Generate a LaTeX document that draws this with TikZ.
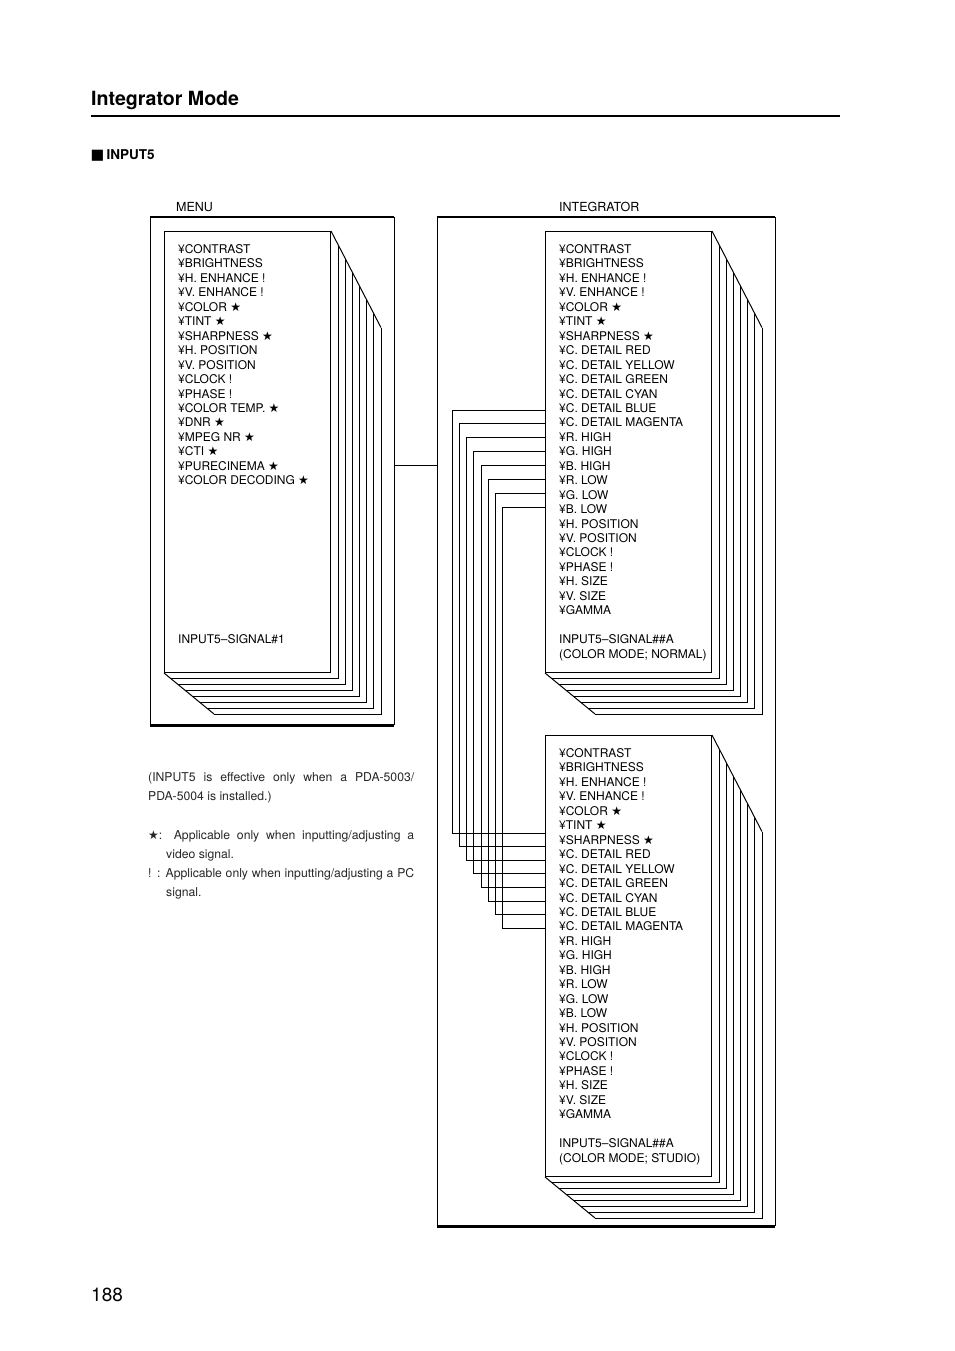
\documentclass[tikz,border=0pt]{standalone}
\usepackage{fontspec}
\setmainfont{TeX Gyre Heros}
\newfontfamily\symfont{DejaVu Sans}
\usetikzlibrary{calc}
\newcommand{\pstar}{{\symfont\fontsize{12}{12}\selectfont ★}}
\newcommand{\backpages}[1]{%
  \foreach \k in {1,...,7}{%
    \draw[pageline] ($(#1.south west)+(7.15*\k,5.86*\k)$) -- ($(#1.south east)+(7.15*\k,5.86*\k)$) -- ($(#1.north east)+(7.15*\k,13.8*\k)$);
  }%
  \draw[pageline] (#1.north east) -- ($(#1.north east)+(50,96.6)$);
  \draw[pageline] (#1.south west) -- ($(#1.south west)+(50,41)$);
}
\begin{document}
\begin{tikzpicture}[x=1pt,y=-1pt,
  pageline/.style={line width=1pt},
  frameside/.style={line width=1pt},
  framethick/.style={line width=2.2pt},
  pagebox/.style={draw, line width=1pt, anchor=north west, inner sep=0pt, minimum width=166pt, minimum height=441pt},
  framebox/.style={anchor=north west, inner sep=0pt},
  item/.style={anchor=base west, inner sep=0pt, font=\fontsize{12}{14}\selectfont},
  hdr/.style={anchor=base west, inner sep=0pt, font=\fontsize{12.5}{14}\selectfont},
  note/.style={anchor=base west, inner sep=0pt, font=\fontsize{12.2}{14}\selectfont, text=black!85}
]
\useasboundingbox (0,0) rectangle (954,1351);

% header
\node[anchor=base west, inner sep=0pt, font=\fontsize{19.6}{22}\selectfont\bfseries] (title) at (91,106) {Integrator Mode};
\draw[line width=2pt] (91,116) -- (840,116);
\node[anchor=base west, inner sep=0pt, font=\fontsize{13.5}{16}\selectfont\bfseries] (sect) at (90.5,160) {{\symfont\fontsize{14.5}{14}\selectfont ■}\,INPUT5};
\node[anchor=base west, inner sep=0pt, font=\fontsize{19}{22}\selectfont] (pnum) at (91,1301) {188};

% frames
\node[framebox, minimum width=244pt, minimum height=508pt] (menuF) at (150,217) {};
\draw[frameside] (menuF.north west) -- (menuF.south west) (menuF.north east) -- (menuF.south east);
\draw[framethick] (menuF.north west) -- (menuF.north east) (menuF.south west) -- (menuF.south east);
\node[framebox, minimum width=338pt, minimum height=1009pt] (intF) at (437,217) {};
\draw[frameside] (intF.north west) -- (intF.south west) (intF.north east) -- (intF.south east);
\draw[framethick] (intF.north west) -- (intF.north east) (intF.south west) -- (intF.south east);
\node[hdr] (menuL) at (176,211.5) {MENU};
\node[hdr] (intL) at (559,211.5) {INTEGRATOR};

% pages
\node[pagebox] (menuP) at (164,231) {};
\backpages{menuP}
\node[pagebox] (intP1) at (545,231) {};
\backpages{intP1}
\node[pagebox] (intP2) at (545,735) {};
\backpages{intP2}

% menu list
\foreach \t [count=\i from 0] in {¥CONTRAST, ¥BRIGHTNESS, ¥H. ENHANCE !, ¥V. ENHANCE !, ¥COLOR \pstar, ¥TINT \pstar, ¥SHARPNESS \pstar, ¥H. POSITION, ¥V. POSITION, ¥CLOCK !, ¥PHASE !, ¥COLOR TEMP. \pstar, ¥DNR \pstar, ¥MPEG NR \pstar, ¥CTI \pstar, ¥PURECINEMA \pstar, ¥COLOR DECODING \pstar}{
  \node[item] (m\i) at (178,{253.5+14.45*\i}) {\t};
}
\node[item] (mS) at (178,643.5) {INPUT5–SIGNAL\#1};

% integrator lists
\foreach \t [count=\i from 0] in {¥CONTRAST, ¥BRIGHTNESS, ¥H. ENHANCE !, ¥V. ENHANCE !, ¥COLOR \pstar, ¥TINT \pstar, ¥SHARPNESS \pstar, ¥C. DETAIL RED, ¥C. DETAIL YELLOW, ¥C. DETAIL GREEN, ¥C. DETAIL CYAN, ¥C. DETAIL BLUE, ¥C. DETAIL MAGENTA, ¥R. HIGH, ¥G. HIGH, ¥B. HIGH, ¥R. LOW, ¥G. LOW, ¥B. LOW, ¥H. POSITION, ¥V. POSITION, ¥CLOCK !, ¥PHASE !, ¥H. SIZE, ¥V. SIZE, ¥GAMMA}{
  \node[item] (a\i) at (559,{253.5+14.45*\i}) {\t};
  \node[item] (b\i) at (559,{757.5+14.45*\i}) {\t};
}
\node[item] (aS1) at (559,643.5) {INPUT5–SIGNAL\#\#A};
\node[item] (aS2) at (559,658) {(COLOR MODE; NORMAL)};
\node[item] (bS1) at (559,1147.5) {INPUT5–SIGNAL\#\#A};
\node[item] (bS2) at (559,1162) {(COLOR MODE; STUDIO)};

% connectors
\coordinate (j1) at (0,465);
\draw[pageline] (menuF.east |- j1) -- (intF.west |- j1);
\foreach \i in {0,...,7}{
  \coordinate (bt\i) at (0,{410+13.9*\i});
  \coordinate (bb\i) at ({452.5+7.15*\i},{833+13.6*\i});
  \draw[pageline] (intP1.west |- bt\i) -| (bb\i) -- (intP2.west |- bb\i);
}

% notes
\node[note] (n1) at (148,781.5) {\makebox[266pt][s]{(INPUT5 is effective only when a PDA-5003/}};
\node[note] (n2) at (148,800.5) {PDA-5004 is installed.)};
\node[note] (n3) at (148,839.5) {\makebox[266pt][s]{\pstar: Applicable only when inputting/adjusting a}};
\node[note] (n4) at (166,858.5) {video signal.};
\node[note] (n5) at (148,877.5) {\makebox[266pt][s]{! : Applicable only when inputting/adjusting a PC}};
\node[note] (n6) at (166,896.5) {signal.};
\end{tikzpicture}
\end{document}
